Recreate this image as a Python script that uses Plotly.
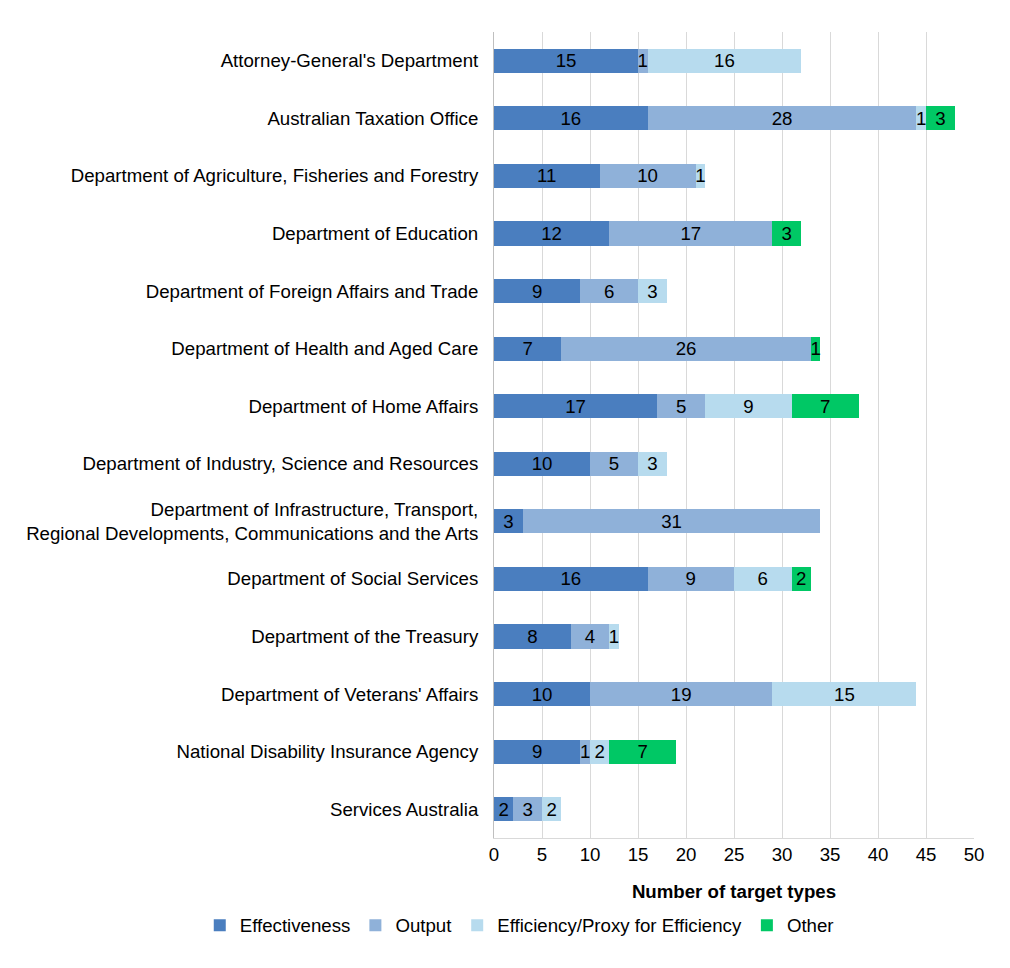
import plotly.graph_objects as go

departments = [
    "Attorney-General's Department",
    "Australian Taxation Office",
    "Department of Agriculture, Fisheries and Forestry",
    "Department of Education",
    "Department of Foreign Affairs and Trade",
    "Department of Health and Aged Care",
    "Department of Home Affairs",
    "Department of Industry, Science and Resources",
    "Department of Infrastructure, Transport,<br>Regional Developments, Communications and the Arts",
    "Department of Social Services",
    "Department of the Treasury",
    "Department of Veterans' Affairs",
    "National Disability Insurance Agency",
    "Services Australia",
]

effectiveness = [15, 16, 11, 12, 9, 7, 17, 10, 3, 16, 8, 10, 9, 2]
output = [1, 28, 10, 17, 6, 26, 5, 5, 31, 9, 4, 19, 1, 3]
efficiency = [16, 1, 1, 0, 3, 0, 9, 3, 0, 6, 1, 15, 2, 2]
other = [0, 3, 0, 3, 0, 1, 7, 0, 0, 2, 0, 0, 7, 0]

series_names = ["Effectiveness", "Output", "Efficiency/Proxy for Efficiency", "Other"]
series_values = [effectiveness, output, efficiency, other]
colors = ["#4a7ebf", "#8fb1d9", "#b7dbee", "#00c865"]

fsize = 18.67

fig = go.Figure()
for name, vals, col in zip(series_names, series_values, colors):
    fig.add_trace(go.Bar(
        y=departments,
        x=vals,
        name=name,
        orientation="h",
        marker=dict(color=col, line=dict(width=0)),
        text=[str(v) if v else "" for v in vals],
        textposition="inside",
        insidetextanchor="middle",
        textangle=0,
        constraintext="none",
        textfont=dict(color="black", size=fsize, family="Liberation Sans, Arial"),
        hoverinfo="none",
    ))

fig.update_layout(
    barmode="stack",
    bargap=0.58,
    width=1010,
    height=968,
    plot_bgcolor="white",
    paper_bgcolor="white",
    font=dict(family="Liberation Sans, Arial", size=fsize, color="black"),
    margin=dict(l=486, r=44, t=24, b=138),
    xaxis=dict(
        range=[0, 50],
        dtick=5,
        showgrid=True,
        gridcolor="#d9d9d9",
        gridwidth=1,
        zeroline=False,
        showline=True,
        linecolor="#d9d9d9",
        linewidth=1,
        ticks="",
        automargin=False,
        tickfont=dict(size=fsize),
        title=dict(text="<b>Number of target types</b>", font=dict(size=fsize), standoff=20),
    ),
    yaxis=dict(
        autorange="reversed",
        showgrid=False,
        showline=True,
        linecolor="#bfbfbf",
        linewidth=1,
        ticks="",
        ticklabelstandoff=11,
        automargin=False,
        tickfont=dict(size=fsize),
    ),
    legend=dict(
        orientation="h",
        x=-0.613,
        xanchor="left",
        y=-0.085,
        yanchor="top",
        font=dict(size=fsize),
        itemwidth=30,
        traceorder="normal",
    ),
    showlegend=True,
)

fig.write_html("out.html")
